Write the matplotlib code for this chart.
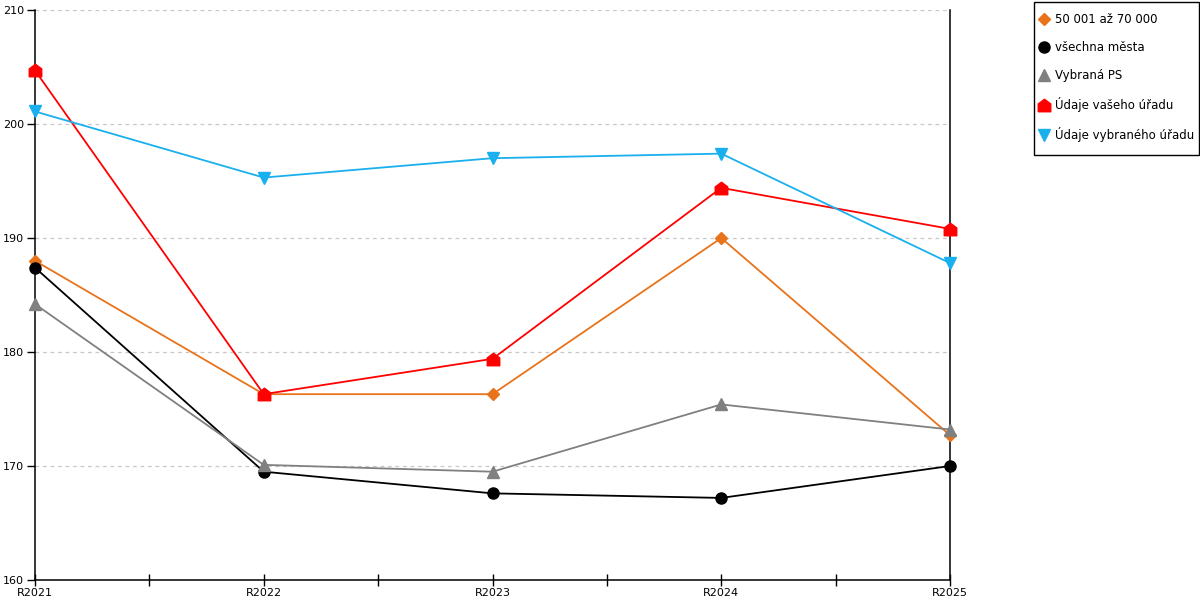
import matplotlib
matplotlib.use("Agg")
import matplotlib.pyplot as plt
from matplotlib.path import Path
from matplotlib.patches import Rectangle
import numpy as np

categories = ["R2021", "R2022", "R2023", "R2024", "R2025"]
s_5070 = [188.0, 176.3, 176.3, 190.0, 172.7]
s_all = [187.4, 169.5, 167.6, 167.2, 170.0]
s_ps = [184.2, 170.1, 169.5, 175.4, 173.2]
s_vas = [204.7, 176.3, 179.4, 194.4, 190.8]
s_vyb = [201.1, 195.3, 197.0, 197.4, 187.8]

labels = ["50 001 až 70 000", "všechna města", "Vybraná PS",
          "Údaje vašeho úřadu", "Údaje vybraného úřadu"]
colors = ["#E8731A", "#000000", "#808080", "#FF0000", "#1AB0EE"]

house = Path([(-1, -1), (1, -1), (1, 0.25), (0, 1), (-1, 0.25), (-1, -1)],
             [Path.MOVETO, Path.LINETO, Path.LINETO, Path.LINETO, Path.LINETO, Path.CLOSEPOLY])

markers = ["D", "o", "^", house, "v"]
msizes = [6, 8, 8, 9, 9]
series = [s_5070, s_all, s_ps, s_vas, s_vyb]

fig = plt.figure(figsize=(12, 6), dpi=100)
ax = fig.add_axes([35/1200, 20/600, 915/1200, 570/600])
x = np.arange(len(categories))

for vals, lab, c, m, ms in zip(series, labels, colors, markers, msizes):
    ax.plot(x, vals, color=c, lw=1.3, marker=m, ms=ms, label=lab, clip_on=False, zorder=3)

ax.set_xlim(0, len(categories) - 1)
ax.set_ylim(160, 210)
ax.set_yticks([160, 170, 180, 190, 200, 210])
ax.set_xticks(x)
ax.set_xticklabels(categories)
ax.set_xticks(np.arange(0.5, len(categories) - 1, 1.0), minor=True)
ax.tick_params(axis='x', which='both', direction='inout', length=8, width=1, labelsize=8, pad=2)
ax.tick_params(axis='y', direction='out', length=6, width=1, labelsize=8, pad=2)
ax.grid(axis='y', color='#C8C8C8', linestyle=(0, (3, 3)), lw=0.9)
ax.set_axisbelow(True)
ax.spines['top'].set_visible(False)
for sp in ['left', 'right', 'bottom']:
    ax.spines[sp].set_linewidth(1.1)
    ax.spines[sp].set_color('black')

handles = [plt.Line2D([], [], ls='none', marker=m, color=c, ms=ms)
           for m, c, ms in zip(markers, colors, msizes)]
leg = fig.legend(handles, labels, loc='upper left', bbox_to_anchor=(1038/1200, 1 - 13/600),
                 frameon=False, fontsize=8.5,
                 handletextpad=0.4, labelspacing=1.27, borderpad=0, handlelength=1.0,
                 borderaxespad=0)
fig.patches.append(Rectangle((1034/1200, 1 - 155/600), 165/1200, 153/600,
                             transform=fig.transFigure, fill=False, edgecolor='black', lw=1.0))

fig.savefig("out.png", dpi=100)
